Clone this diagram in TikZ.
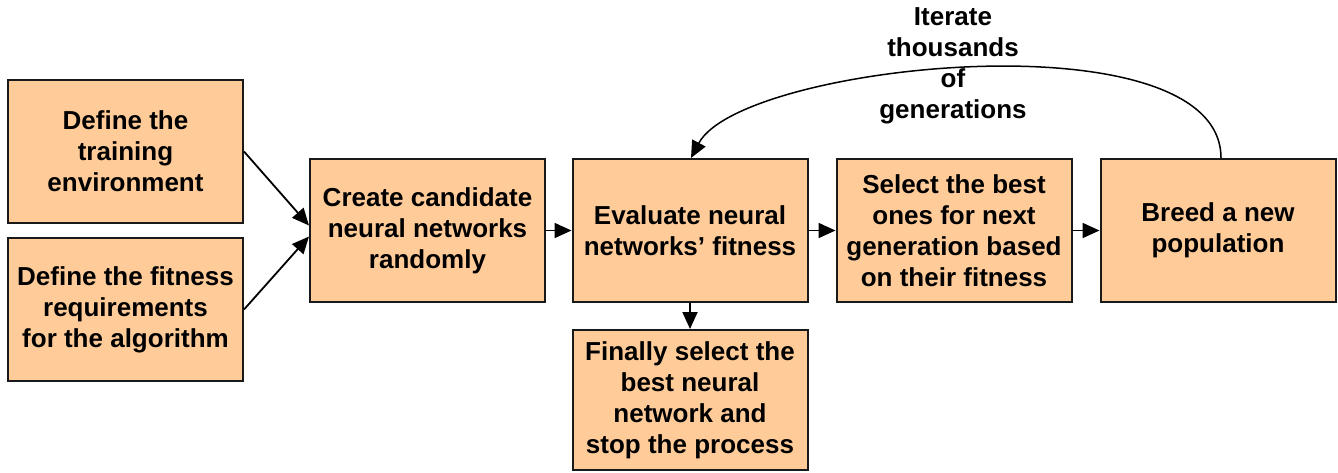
\documentclass[tikz,border=0pt]{standalone}
\usepackage{fontspec}
\setmainfont{Liberation Sans}
\usetikzlibrary{arrows.meta,calc}
\definecolor{boxfill}{HTML}{FFCC99}
\begin{document}
\begin{tikzpicture}[x=1pt,y=-1pt,
  stepbox/.style={draw=black!90, line width=2pt, fill=boxfill,
    minimum width=235pt, minimum height=143pt, align=center, inner sep=0pt,
    font=\bfseries\fontsize{26}{31}\selectfont},
  link/.style={line width=1.8pt, -{Triangle[length=17pt,width=15pt]}},
  loop/.style={line width=1.5pt, -{Triangle[length=17pt,width=15pt]}},
  note/.style={align=center, inner sep=0pt, font=\bfseries\fontsize{26}{31}\selectfont}]
\useasboundingbox (0,0) rectangle (1338,472);

% process steps
\node[stepbox] (env)    at (125.5,151.5) {Define the\\training\\environment};
\node[stepbox] (req)    at (125.5,309.5) {Define the fitness\\requirements\\for the algorithm};
\node[stepbox] (create) at (427.5,230.5) {Create candidate\\neural networks\\randomly};
\node[stepbox] (eval)   at (690,230.5)   {Evaluate neural\\networks’ fitness};
\node[stepbox] (select) at (954,230.5)   {Select the best\\ones for next\\generation based\\on their fitness};
\node[stepbox] (breed)  at (1218,230.5)  {Breed a new\\population};
\node[stepbox, minimum height=140pt] (final) at (690,400) {Finally select the\\best neural\\network and\\stop the process};

% loop label
\node[note] (iter) at (953,66) {Iterate\\thousands\\of\\generations};

% connectors
\draw[link] (env.east) -- ($(create.west)+(0,-5)$);
\draw[link] (req.east) -- ($(create.west)+(0,6)$);
\draw[link] (create.east) -- (eval.west);
\draw[link] (eval.east) -- (select.west);
\draw[link] (select.east) -- (breed.west);
\draw[link] (eval.south) -- (final.north);
\draw[loop] ($(breed.north)+(3,0)$) .. controls +(0,-144) and +(50,-95) .. ($(eval.north)+(1,0)$);
\end{tikzpicture}
\end{document}
